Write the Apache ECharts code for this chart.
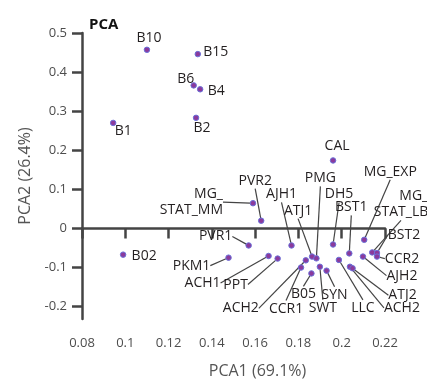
<!DOCTYPE html>
<html>
<head>
<meta charset="utf-8">
<script src="https://cdn.jsdelivr.net/npm/echarts@6/dist/echarts.min.js"></script>
<style>
  html, body { margin: 0; padding: 0; background: #fff; }
  #chart { width: 427px; height: 384px; }
</style>
</head>
<body>
<div id="chart"></div>
<script>
// sample names, PCA1 / PCA2 scores
var names = ['B10', 'B15', 'B6', 'B4', 'B2', 'B1', 'B02', 'CAL',
  'MG_\nSTAT_MM', 'PVR2', 'PVR1', 'AJH1', 'PKM1', 'ACH1', 'PPT', 'ACH2',
  'CCR1', 'ATJ1', 'PMG', 'B05', 'SWT', 'SYN', 'DH5', 'LLC',
  'BST1', 'ACH2', 'ATJ2', 'AJH2', 'MG_EXP', 'MG_\nSTAT_LB', 'BST2', 'CCR2'];
var pca1 = [0.110, 0.1335, 0.1316, 0.1346, 0.1327, 0.0944, 0.099, 0.196,
  0.159, 0.1628, 0.157, 0.1768, 0.1477, 0.1662, 0.1704, 0.1834,
  0.1812, 0.1863, 0.1883, 0.1860, 0.1899, 0.1930, 0.196, 0.1987,
  0.2035, 0.2038, 0.2050, 0.2098, 0.2104, 0.2141, 0.2163, 0.2163];
var pca2 = [0.457, 0.446, 0.366, 0.356, 0.283, 0.270, -0.067, 0.174,
  0.0646, 0.0198, -0.0435, -0.0435, -0.0747, -0.0704, -0.077, -0.0815,
  -0.100, -0.072, -0.0765, -0.115, -0.098, -0.108, -0.041, -0.0805,
  -0.0638, -0.098, -0.1018, -0.072, -0.029, -0.0613, -0.0628, -0.072];
var yTicks = [-0.2, -0.1, 0, 0.1, 0.2, 0.3, 0.4, 0.5];

// where each label sits relative to its dot (px); the first 8 have no leader line
var labelShift = [[2, -12], [18, -2], [-8, -6], [16, 2], [6, 10], [10, 8], [21, 1], [4, -14],
  [-30, -1], [-6, -40], [-33, -9], [-10, -51], [-37, 8], [-66, 27], [-42, 26], [-65, 48],
  [-15, 41], [-14, -46], [4, -80], [-8, 21], [3, 41], [8, 24], [6, -50], [24, 48],
  [2, -46], [52, 41], [50, 27], [39, 19], [26, -68], [56, -48], [27, -18], [25, 2]];
var plainCount = 8;

var chart = echarts.init(document.getElementById('chart'));

var data = names.map(function (n, i) {
  var item = { name: n, value: [pca1[i], pca2[i]] };
  if (i < plainCount) {
    item.labelLine = { show: false };
  }
  if (n.indexOf('\n') >= 0) {
    item.label = { align: 'right' };  // two-line labels are right aligned
  }
  return item;
});

var axisColor = '#444';
var tickText = { color: '#4d4d4d', fontSize: 13, fontFamily: 'Open Sans' };

chart.setOption({
  animation: false,
  title: {
    text: 'PCA',
    left: 84,
    top: 12,
    textStyle: { fontSize: 15, fontWeight: 'bold', color: '#111', fontFamily: 'Open Sans' }
  },
  grid: { left: 82, right: 42, top: 33, bottom: 62 },
  xAxis: {
    type: 'value',
    min: 0.08,
    max: 0.22,
    interval: 0.02,
    name: 'PCA1 (69.1%)',
    nameLocation: 'middle',
    nameGap: 44,
    nameTextStyle: { fontSize: 16, color: '#555', fontFamily: 'Open Sans', padding: [0, 0, 0, 48] },
    axisLine: { lineStyle: { color: axisColor, width: 2.5 } },
    axisTick: { length: 10, lineStyle: { color: axisColor, width: 2.5 } },
    axisLabel: Object.assign({ margin: 18 }, tickText),
    splitLine: { show: false }
  },
  yAxis: {
    type: 'value',
    min: -0.2316,
    max: 0.5,
    name: 'PCA2 (26.4%)',
    nameLocation: 'middle',
    nameGap: 46,
    nameTextStyle: { fontSize: 16, color: '#555', fontFamily: 'Open Sans' },
    axisLine: { show: true, lineStyle: { color: axisColor, width: 2.5 } },
    axisTick: { show: true, length: 10, customValues: yTicks, lineStyle: { color: axisColor, width: 2.5 } },
    axisLabel: Object.assign({ margin: 15, customValues: yTicks }, tickText),
    splitLine: { show: false }
  },
  series: [{
    type: 'scatter',
    symbolSize: 5.5,
    itemStyle: { color: '#8b3a9c', borderColor: '#6a70d8', borderWidth: 1, opacity: 1 },
    label: {
      show: true,
      position: 'inside',
      formatter: '{b}',
      color: '#231f20',
      fontSize: 14,
      fontFamily: 'Open Sans',
      lineHeight: 16
    },
    labelLine: { show: true, lineStyle: { color: '#444', width: 1.2 } },
    labelLayout: function (params) {
      var s = labelShift[params.dataIndex];
      return { dx: s[0], dy: s[1] };
    },
    data: data
  }]
});
</script>
</body>
</html>
